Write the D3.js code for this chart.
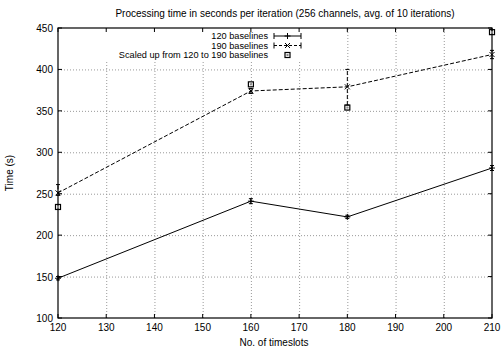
<!DOCTYPE html>
<html>
<head>
<meta charset="utf-8">
<script src="https://cdn.jsdelivr.net/npm/d3@7"></script>
<style>
  body { margin: 0; background: #fff; }
  svg { display: block; font-family: "Liberation Sans", Arial, sans-serif; }
</style>
</head>
<body>
<svg id="chart" width="502" height="351"></svg>
<script>
const timeslots = [120, 160, 180, 210];
const base120 = [148, 241, 222, 281];
const base120Err = [[146, 150], [238, 244], [220, 224], [278, 284]];
const base190 = [251, 374, 379, 418];
const base190Err = [[248, 261], [371, 377], [357, 400], [413, 423]];
const scaled = [234, 382, 354, 445];
const xTicks = [120, 130, 140, 150, 160, 170, 180, 190, 200, 210];
const yTicks = [100, 150, 200, 250, 300, 350, 400, 450];

const width = 502;
const height = 351;
const margin = { top: 28, right: 10, bottom: 33, left: 58 };
const svg = d3.select("#chart");

const x = d3.scaleLinear().domain([120, 210]).range([margin.left, width - margin.right]);
const y = d3.scaleLinear().domain([100, 450]).range([height - margin.bottom, margin.top]);

// grid
const grid = svg.append("g").attr("stroke", "#999").attr("stroke-width", 1).attr("stroke-dasharray", "1,2");
xTicks.slice(1, -1).forEach((t) => {
  grid.append("line").attr("x1", x(t) + 0.5).attr("x2", x(t) + 0.5)
    .attr("y1", y(100)).attr("y2", y(450));
});
yTicks.slice(1, -1).forEach((t) => {
  grid.append("line").attr("x1", x(120)).attr("x2", x(210))
    .attr("y1", y(t) + 0.5).attr("y2", y(t) + 0.5);
});

// key background covers grid like gnuplot
svg.append("rect").attr("x", x(120) + 1).attr("y", y(450) + 1)
  .attr("width", 246).attr("height", 33).attr("fill", "#fff");

// border and ticks
svg.append("rect").attr("x", x(120)).attr("y", y(450))
  .attr("width", x(210) - x(120)).attr("height", y(100) - y(450))
  .attr("fill", "none").attr("stroke", "#000").attr("stroke-width", 1.2);

const tickLen = 4;
const ticks = svg.append("g").attr("stroke", "#000").attr("stroke-width", 1);
xTicks.forEach((t) => {
  ticks.append("line").attr("x1", x(t)).attr("x2", x(t)).attr("y1", y(100)).attr("y2", y(100) - tickLen);
  ticks.append("line").attr("x1", x(t)).attr("x2", x(t)).attr("y1", y(450)).attr("y2", y(450) + tickLen);
});
yTicks.forEach((t) => {
  ticks.append("line").attr("x1", x(120)).attr("x2", x(120) + tickLen).attr("y1", y(t)).attr("y2", y(t));
  ticks.append("line").attr("x1", x(210)).attr("x2", x(210) - tickLen).attr("y1", y(t)).attr("y2", y(t));
});

const labels = svg.append("g").attr("font-size", 10).attr("fill", "#000");
xTicks.forEach((t) => {
  labels.append("text").attr("x", x(t)).attr("y", y(100) + 13).attr("text-anchor", "middle").text(t);
});
yTicks.forEach((t) => {
  labels.append("text").attr("x", x(120) - 5).attr("y", y(t) + 4).attr("text-anchor", "end").text(t);
});

labels.append("text").attr("x", 285).attr("y", 17).attr("text-anchor", "middle")
  .text("Processing time in seconds per iteration (256 channels, avg. of 10 iterations)");
labels.append("text").attr("x", 274).attr("y", 346).attr("text-anchor", "middle").text("No. of timeslots");
labels.append("text").attr("transform", `translate(13,${(y(100) + y(450)) / 2}) rotate(-90)`)
  .attr("text-anchor", "middle").text("Time (s)");

const line = d3.line().x((d) => x(d[0])).y((d) => y(d[1]));

function drawSeries(values, errs, dash, marker) {
  const g = svg.append("g").attr("stroke", "#000").attr("fill", "none").attr("stroke-width", 1);
  const pts = timeslots.map((t, i) => [t, values[i]]);
  g.append("path").attr("d", line(pts)).attr("stroke-dasharray", dash);
  errs.forEach((e, i) => {
    const cx = x(timeslots[i]);
    g.append("line").attr("x1", cx).attr("x2", cx).attr("y1", y(e[0])).attr("y2", y(e[1]))
      .attr("stroke-dasharray", dash);
    [e[0], e[1]].forEach((v) => {
      g.append("line").attr("x1", cx - 2).attr("x2", cx + 2).attr("y1", y(v)).attr("y2", y(v));
    });
    marker(g, cx, y(values[i]));
  });
}

function plus(g, cx, cy) {
  g.append("path").attr("d", `M${cx - 3},${cy}H${cx + 3}M${cx},${cy - 3}V${cy + 3}`);
}
function cross(g, cx, cy) {
  g.append("path").attr("d", `M${cx - 2.5},${cy - 2.5}L${cx + 2.5},${cy + 2.5}M${cx - 2.5},${cy + 2.5}L${cx + 2.5},${cy - 2.5}`);
}
function box(g, cx, cy) {
  g.append("rect").attr("x", cx - 2.5).attr("y", cy - 2.5).attr("width", 5).attr("height", 5)
    .attr("fill", "none").attr("stroke", "#000").attr("stroke-width", 1.2);
  g.append("rect").attr("x", cx - 1).attr("y", cy - 1).attr("width", 2).attr("height", 2)
    .attr("fill", "#888").attr("stroke", "none");
}

drawSeries(base120, base120Err, null, plus);
drawSeries(base190, base190Err, "4,2", cross);

const sg = svg.append("g").attr("stroke", "#000").attr("fill", "none");
timeslots.forEach((t, i) => box(sg, x(t), y(scaled[i])));

// key
const key = svg.append("g");
const keyRows = [
  { label: "120 baselines", dash: null, marker: plus, bars: true },
  { label: "190 baselines", dash: "3,2", marker: cross, bars: true },
  { label: "Scaled up from 120 to 190 baselines", dash: null, marker: box, bars: false }
];
keyRows.forEach((r, i) => {
  const ky = 36 + i * 9.5;
  key.append("text").attr("x", 268).attr("y", ky + 3.2).attr("text-anchor", "end")
    .attr("font-size", 9.2).text(r.label);
  const g = key.append("g").attr("stroke", "#000").attr("fill", "none").attr("stroke-width", 1);
  if (r.bars) {
    g.append("line").attr("x1", 274).attr("x2", 301).attr("y1", ky).attr("y2", ky).attr("stroke-dasharray", r.dash);
    g.append("line").attr("x1", 274).attr("x2", 274).attr("y1", ky - 3).attr("y2", ky + 3);
    g.append("line").attr("x1", 301).attr("x2", 301).attr("y1", ky - 3).attr("y2", ky + 3);
  }
  r.marker(g, 287.5, ky);
});
</script>
</body>
</html>
